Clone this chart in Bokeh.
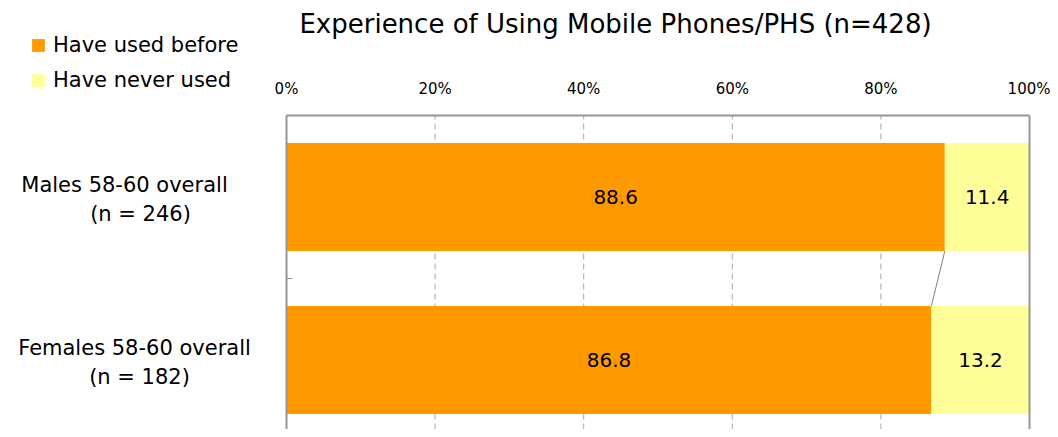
from bokeh.plotting import figure
from bokeh.models import (Range1d, FixedTicker, Label, Legend, LegendItem,
                          ColumnDataSource, LinearAxis)
from bokeh.core.properties import value
from bokeh.embed import file_html
from bokeh.resources import INLINE

# ---- data ----
categories = ["Males 58-60 overall", "Females 58-60 overall"]
sample_sizes = [246, 182]
used_before = [88.6, 86.8]
never_used = [11.4, 13.2]
series_names = ["Have used before", "Have never used"]
tick_values = [0, 20, 40, 60, 80, 100]
tick_labels = ["0%", "20%", "40%", "60%", "80%", "100%"]
title_text = "Experience of Using Mobile Phones/PHS (n=428)"

FONT = "DejaVu Sans"
ORANGE = "#FF9900"
YELLOW = "#FFFF99"
GRAY = "#969696"
GRID = "#A8A8A8"

W, H = 1050, 429
# plot-area placement on the canvas (pixels)
PL, PR, PT = 286, 1029, 115
BAND = 163.0          # pixels per category band

n = len(categories)
ypos = [n - i - 0.5 for i in range(n)]
bar_h = 0.663

xs = (PR - PL) / 100.0
x_start = -PL / xs
x_end = 100 + (W - PR) / xs
y_end = n + PT / BAND
y_start = n - (H - PT) / BAND

src = ColumnDataSource(dict(
    y=ypos,
    used=used_before,
    never=never_used,
    total=[u + v for u, v in zip(used_before, never_used)],
    used_mid=[u / 2 for u in used_before],
    never_mid=[u + v / 2 for u, v in zip(used_before, never_used)],
    used_txt=["%.1f" % u for u in used_before],
    never_txt=["%.1f" % v for v in never_used],
))

p = figure(width=W, height=H, output_backend="svg", toolbar_location=None,
           x_range=Range1d(x_start, x_end), y_range=Range1d(y_start, y_end),
           x_axis_location=None, y_axis_location=None,
           min_border=0, min_border_left=0, min_border_right=0,
           min_border_top=0, min_border_bottom=0)
p.outline_line_color = None
p.background_fill_color = "white"
p.border_fill_color = "white"
p.grid.visible = False

# dashed gridlines inside plot area
grid_ticks = tick_values[1:-1]
p.segment(x0=grid_ticks, y0=[y_start] * len(grid_ticks),
          x1=grid_ticks, y1=[n] * len(grid_ticks),
          line_color=GRID, line_dash="6 4", line_width=1)

r1 = p.hbar(y="y", left=0, right="used", height=bar_h, source=src,
            fill_color=ORANGE, line_color=None)
r2 = p.hbar(y="y", left="used", right="total", height=bar_h, source=src,
            fill_color=YELLOW, line_color=None)

# value labels
p.text(x="used_mid", y="y", text="used_txt", source=src, text_align="center",
       text_baseline="middle", text_font=value(FONT), text_font_size="20px",
       text_color="black")
p.text(x="never_mid", y="y", text="never_txt", source=src, text_align="center",
       text_baseline="middle", text_font=value(FONT), text_font_size="20px",
       text_color="black")

# series line connecting bars
p.segment(x0=[used_before[0]], y0=[ypos[0] - bar_h / 2],
          x1=[used_before[1]], y1=[ypos[1] + bar_h / 2],
          line_color="#808080", line_width=1)

# right border of plot area
p.segment(x0=[100], y0=[y_start], x1=[100], y1=[n],
          line_color=GRAY, line_width=2)

# x axis on top of plot area
xa = LinearAxis(fixed_location=n, bounds=(0, 100))
xa.ticker = FixedTicker(ticks=tick_values)
xa.major_label_overrides = {t: l for t, l in zip(tick_values, tick_labels)}
xa.major_tick_in = 0
xa.major_tick_out = 0
xa.minor_tick_in = 0
xa.minor_tick_out = 0
xa.axis_line_color = GRAY
xa.axis_line_width = 2
xa.major_label_text_font = FONT
xa.major_label_text_font_size = "15px"
xa.major_label_text_color = "black"
xa.major_label_standoff = 18
p.add_layout(xa, "above")

# y axis (left line with separator tick between categories)
ya = LinearAxis(fixed_location=0, bounds=(y_start, n))
ya.ticker = FixedTicker(ticks=[n - 1])
ya.major_tick_in = 6
ya.major_tick_out = 0
ya.minor_tick_in = 0
ya.minor_tick_out = 0
ya.major_tick_line_color = GRAY
ya.axis_line_color = GRAY
ya.axis_line_width = 2
ya.major_label_text_font_size = "0px"
ya.major_label_text_color = None
p.add_layout(ya, "left")

# title
p.add_layout(Label(x=615, y=H - 23, x_units="screen", y_units="screen",
                   text=title_text, text_align="center", text_baseline="middle",
                   text_font=FONT, text_font_size="26px", text_color="black"))

# category labels
line1_x = [124, 134]
line2_x = [140, 139]
for i, (c, ns) in enumerate(zip(categories, sample_sizes)):
    p.add_layout(Label(x=line1_x[i], y=ypos[i], x_units="screen", y_units="data",
                       y_offset=12, text=c, text_align="center",
                       text_baseline="middle", text_font=FONT,
                       text_font_size="21px", text_color="black"))
    p.add_layout(Label(x=line2_x[i], y=ypos[i], x_units="screen", y_units="data",
                       y_offset=-17, text="(n = %d)" % ns, text_align="center",
                       text_baseline="middle", text_font=FONT,
                       text_font_size="21px", text_color="black"))

# legend
legend = Legend(items=[LegendItem(label=series_names[0], renderers=[r1]),
                       LegendItem(label=series_names[1], renderers=[r2])],
                location=(30, 337), orientation="vertical")
legend.border_line_color = None
legend.background_fill_alpha = 0
legend.padding = 0
legend.margin = 0
legend.spacing = 11
legend.glyph_width = 16
legend.glyph_height = 16
legend.label_standoff = 7
legend.label_height = 16
legend.label_text_font = FONT
legend.label_text_font_size = "21px"
legend.label_text_color = "black"
p.add_layout(legend, "center")

open("out.html", "w").write(file_html(p, INLINE))
